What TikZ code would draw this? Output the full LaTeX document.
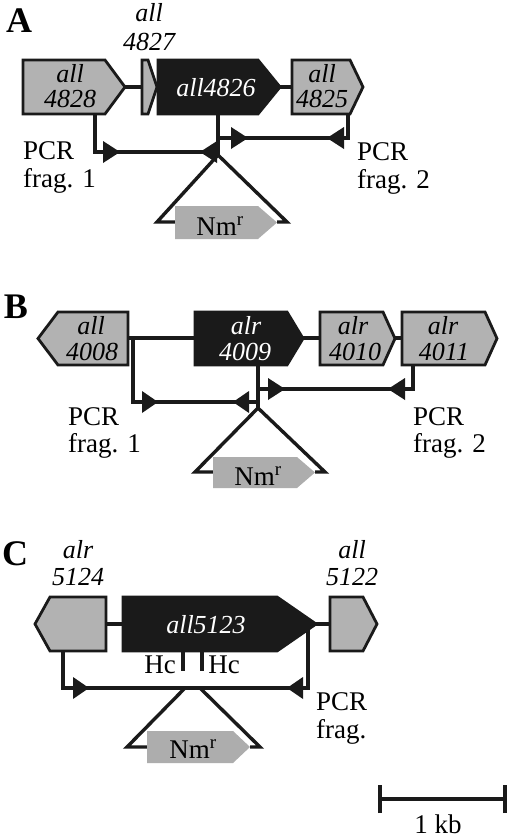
\documentclass[tikz,border=0pt]{standalone}
\usepackage{fontspec}
\setmainfont{Liberation Serif}
\definecolor{ink}{HTML}{1A1A1A}
\definecolor{genegray}{HTML}{B2B2B2}
\definecolor{nmgray}{HTML}{ADADAD}
\tikzset{
  gene/.style={draw=ink, line width=2.8pt, fill=genegray, line join=miter},
  target/.style={draw=ink, line width=2.8pt, fill=ink, line join=miter},
  nmbox/.style={fill=nmgray, draw=none},
  link/.style={draw=ink, line width=3.2pt},
  frag/.style={draw=ink, line width=3.6pt, line join=miter},
  ins/.style={draw=ink, line width=3.4pt, line join=miter},
  tick/.style={draw=ink, line width=3.4pt},
  txt/.style={font=\fontsize{27}{30}\selectfont, inner sep=0pt, anchor=base},
  ltxt/.style={txt, anchor=base west},
  gtxt/.style={txt, font=\fontsize{26}{28}\selectfont\itshape},
  wtxt/.style={gtxt, text=white},
  panel/.style={font=\fontsize{36}{40}\selectfont\bfseries, inner sep=0pt, anchor=base},
}
% pentagon gene arrow: style, flat x, top, bottom, shoulder x, tip x
\newcommand\geneshape[6]{\draw[#1] (#2,#3) -- (#5,#3) -- (#6,{(#3+#4)/2}) -- (#5,#4) -- (#2,#4) -- cycle;}
% primer triangle: base x, tip x, y
\newcommand\primertri[3]{\fill[ink] (#1,{#3-11}) -- (#2,#3) -- (#1,{#3+11}) -- cycle;}
\begin{document}
\begin{tikzpicture}[x=1pt,y=-1pt]
\useasboundingbox (0,0) rectangle (508,838);
\fill[white] (0,0) rectangle (508,838);

%%%%%%%%%%%%%%%% Panel A
\node[panel] (labA) at (19,32) {A};
\coordinate (a28r) at (125,87); \coordinate (a27l) at (142,87);
\coordinate (a26r) at (280,87); \coordinate (a25l) at (292,87);
\draw[link] (a28r) -- (a27l);
\draw[link] (a26r) -- (a25l);
\geneshape{gene}{23}{60}{114}{105}{125}
\geneshape{gene}{142}{60}{114}{148}{157}
\geneshape{target}{158}{60}{114}{258}{280}
\geneshape{gene}{292}{60}{114}{350}{363}
\node[gtxt] (tA1a) at (70,82) {all};
\node[gtxt] (tA1b) at (70,107) {4828};
\node[gtxt] (tA2a) at (149,21) {all};
\node[gtxt] (tA2b) at (149,50) {4827};
\node[wtxt] (tA3) at (216,96) {all4826};
\node[gtxt] (tA4a) at (322,82) {all};
\node[gtxt] (tA4b) at (322,107) {4825};
\coordinate (a28b) at (95,114); \coordinate (af1c) at (95,152); \coordinate (af1e) at (217,152);
\coordinate (a26b) at (218,114); \coordinate (aApex) at (218,155);
\coordinate (af2s) at (218,138); \coordinate (af2c) at (348,138); \coordinate (a25b) at (348,114);
\draw[frag] (a28b) -- (af1c) -- (af1e);
\draw[frag] (a26b) -- (aApex);
\draw[frag] (af2s) -- (af2c) -- (a25b);
\primertri{103}{120}{152}
\primertri{217}{200}{152}
\primertri{231}{248}{138}
\primertri{344}{327}{138}
\coordinate (aNl) at (175,222); \coordinate (aTl) at (157,222);
\coordinate (aTr) at (287,222); \coordinate (aNr) at (277,222);
\draw[ins] (aNl) -- (aTl) -- (aApex) -- (aTr) -- (aNr);
\geneshape{nmbox}{175}{206}{239}{258}{277}
\node[txt] (nmA) at (220,235) {Nm\textsuperscript{r}};
\node[ltxt] (pA1a) at (23,159) {PCR};
\node[ltxt] (pA1b) at (23,187) {frag. 1};
\node[ltxt] (pA2a) at (357,160) {PCR};
\node[ltxt] (pA2b) at (357,188) {frag. 2};

%%%%%%%%%%%%%%%% Panel B
\node[panel] (labB) at (16,318) {B};
\coordinate (b08r) at (128,338); \coordinate (b09l) at (195,338);
\coordinate (b09r) at (303,338); \coordinate (b10l) at (320,338);
\coordinate (b10r) at (395,338); \coordinate (b11l) at (402,338);
\draw[link] (b08r) -- (b09l);
\draw[link] (b09r) -- (b10l);
\draw[link] (b10r) -- (b11l);
\geneshape{gene}{128}{312}{365}{58}{38}
\geneshape{target}{195}{312}{365}{287}{303}
\geneshape{gene}{320}{312}{365}{383}{395}
\geneshape{gene}{402}{312}{365}{485}{497}
\node[gtxt] (tB1a) at (91,334) {all};
\node[gtxt] (tB1b) at (92,360) {4008};
\node[wtxt] (tB2a) at (246,334) {alr};
\node[wtxt] (tB2b) at (245,360) {4009};
\node[gtxt] (tB3a) at (353,334) {alr};
\node[gtxt] (tB3b) at (355,360) {4010};
\node[gtxt] (tB4a) at (443,334) {alr};
\node[gtxt] (tB4b) at (444,360) {4011};
\coordinate (bf1s) at (133,338); \coordinate (bf1c) at (133,402); \coordinate (bf1e) at (257,402);
\coordinate (b09b) at (258,365); \coordinate (bApex) at (258,408);
\coordinate (bf2s) at (258,389); \coordinate (bf2c) at (413,389); \coordinate (b11b) at (413,365);
\draw[frag] (bf1s) -- (bf1c) -- (bf1e);
\draw[frag] (b09b) -- (bApex);
\draw[frag] (bf2s) -- (bf2c) -- (b11b);
\primertri{142}{158}{402}
\primertri{249}{233}{402}
\primertri{268}{285}{389}
\primertri{405}{388}{389}
\coordinate (bNl) at (213,472); \coordinate (bTl) at (195,472);
\coordinate (bTr) at (325,472); \coordinate (bNr) at (315,472);
\draw[ins] (bNl) -- (bTl) -- (bApex) -- (bTr) -- (bNr);
\geneshape{nmbox}{213}{457}{488}{297}{315}
\node[txt] (nmB) at (258,485) {Nm\textsuperscript{r}};
\node[ltxt] (pB1a) at (68,425) {PCR};
\node[ltxt] (pB1b) at (68,452) {frag. 1};
\node[ltxt] (pB2a) at (413,425) {PCR};
\node[ltxt] (pB2b) at (413,452) {frag. 2};

%%%%%%%%%%%%%%%% Panel C
\node[panel] (labC) at (15,565) {C};
\coordinate (c24r) at (106,624); \coordinate (c23l) at (123,624);
\coordinate (c23r) at (316,624); \coordinate (c22l) at (330,624);
\draw[link] (c24r) -- (c23l);
\draw[link] (c23r) -- (c22l);
\geneshape{gene}{106}{597}{651}{50}{35}
\geneshape{target}{123}{597}{651}{277}{316}
\geneshape{gene}{330}{597}{651}{363}{377}
\node[gtxt] (tC1a) at (78,558) {alr};
\node[gtxt] (tC1b) at (78,585) {5124};
\node[wtxt] (tC2) at (206,633) {all5123};
\node[gtxt] (tC3a) at (352,558) {all};
\node[gtxt] (tC3b) at (352,585) {5122};
\coordinate (hc1t) at (183,651); \coordinate (hc1b) at (183,671);
\coordinate (hc2t) at (202,651); \coordinate (hc2b) at (202,671);
\draw[tick] (hc1t) -- (hc1b);
\draw[tick] (hc2t) -- (hc2b);
\node[txt] (hcA) at (160,673) {Hc};
\node[txt] (hcB) at (224,673) {Hc};
\coordinate (c24b) at (63,651); \coordinate (cf1) at (63,688);
\coordinate (cf2) at (308,688); \coordinate (c23t) at (308,626);
\draw[frag] (c24b) -- (cf1) -- (cf2) -- (c23t);
\primertri{73}{89}{688}
\primertri{303}{287}{688}
\coordinate (cNl) at (147,747); \coordinate (cTl) at (127,747); \coordinate (cAl) at (185,688);
\coordinate (cAr) at (200,688); \coordinate (cTr) at (260,747); \coordinate (cNr) at (250,747);
\draw[ins] (cNl) -- (cTl) -- (cAl);
\draw[ins] (cAr) -- (cTr) -- (cNr);
\geneshape{nmbox}{147}{731}{763}{233}{250}
\node[txt] (nmC) at (193,758) {Nm\textsuperscript{r}};
\node[ltxt] (pC1a) at (316,710) {PCR};
\node[ltxt] (pC1b) at (316,738) {frag.};

%%%%%%%%%%%%%%%% scale bar
\coordinate (sbl) at (380,799); \coordinate (sbr) at (505,799);
\draw[link, line width=3.6pt] (sbl) -- (sbr);
\draw[tick, line width=4.4pt] ([yshift=-14pt]sbl) -- ([yshift=14pt]sbl);
\draw[tick, line width=4.4pt] ([yshift=-14pt]sbr) -- ([yshift=14pt]sbr);
\node[txt] (kb) at (438,833) {1 kb};
\end{tikzpicture}
\end{document}
